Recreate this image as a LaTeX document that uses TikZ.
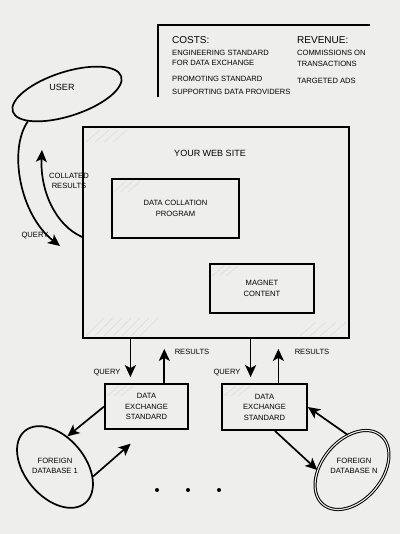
\documentclass[tikz,border=0pt]{standalone}
\usepackage{fontspec}
\setmainfont{Liberation Sans}
\usetikzlibrary{arrows.meta,shapes.geometric,calc}
\definecolor{paper}{RGB}{238,238,236}
\begin{document}
\begin{tikzpicture}[x=1pt,y=-1pt,
  lbl/.style={font=\fontsize{7.6}{10}\selectfont, align=center, inner sep=0pt},
  big/.style={font=\fontsize{9}{11}\selectfont, inner sep=0pt},
  hdr/.style={font=\fontsize{10}{12}\selectfont, inner sep=0pt, anchor=west},
  item/.style={font=\fontsize{7.6}{10.5}\selectfont, inner sep=0pt, anchor=west, align=left},
  box/.style={draw, line width=1.8pt, rectangle, inner sep=0pt, font=\fontsize{7.6}{10.5}\selectfont, align=center},
  oval/.style={draw, line width=1.7pt, ellipse, inner sep=0pt},
  arr/.style={line width=1.7pt, -{Stealth[length=12pt,width=11pt,inset=3pt]}},
  hatch/.style={gray!30, line width=0.5pt},
  dot/.style={circle, fill, inner sep=0pt, minimum size=4pt}]

\fill[paper] (0,0) rectangle (400,534);
\useasboundingbox (0,0) rectangle (400,534);

% legend
\draw[line width=1.8pt] (370,25) -- (158,25) -- (158,97);
\node[hdr] (costs) at (172,40) {COSTS:};
\node[item] (c1) at (172,58) {ENGINEERING STANDARD\\FOR DATA EXCHANGE};
\node[item] (c2) at (172,79) {PROMOTING STANDARD};
\node[item] (c3) at (172,92) {SUPPORTING DATA PROVIDERS};
\node[hdr] (rev) at (297,40) {REVENUE:};
\node[item] (r1t) at (297,58.5) {COMMISSIONS ON\\TRANSACTIONS};
\node[item] (r2t) at (297,81) {TARGETED ADS};

% hatching
\foreach \i in {0,...,6} \draw[hatch] (86+\i*9,336) -- (104+\i*9,318);
\foreach \i in {0,...,3} \draw[hatch] (300+\i*10,336) -- (316+\i*10,322);
\foreach \i in {0,...,3} \draw[hatch] (86+\i*9,142) -- (100+\i*9,130);
\foreach \i in {0,...,2} \draw[hatch] (114+\i*7,192) -- (126+\i*7,181);
\foreach \i in {0,...,2} \draw[hatch] (212+\i*7,276) -- (224+\i*7,266);
\foreach \i in {0,...,2} \draw[hatch] (107+\i*7,396) -- (119+\i*7,386);
\foreach \i in {0,...,2} \draw[hatch] (224+\i*7,396) -- (236+\i*7,386);

% boxes
\node[box, minimum width=266, minimum height=211] (web) at (216,232.5) {};
\node[big] (title) at (210,153) {YOUR WEB SITE};
\node[box, minimum width=127, minimum height=59] (dcp) at (175.5,208.5) {DATA COLLATION\\PROGRAM};
\node[box, minimum width=104, minimum height=49] (mag) at (262,288.5) {MAGNET\\CONTENT};
\node[box, minimum width=83, minimum height=45] (ex1) at (146.5,406.5) {DATA\\EXCHANGE\\STANDARD};
\node[box, minimum width=85, minimum height=46] (ex2) at (264.5,407) {DATA\\EXCHANGE\\STANDARD};

% ellipses
\node[oval, minimum width=114, minimum height=44, rotate=18] (user) at (67,94) {};
\node[big] (userlbl) at (62,87) {USER};
\node[oval, minimum width=94, minimum height=60, rotate=-50] (db1) at (55,467) {};
\node[lbl] (db1lbl) at (55,466) {FOREIGN\\DATABASE 1};
\node[oval, line width=1pt, double=paper, double distance=1.1pt, minimum width=90, minimum height=60, rotate=50] (dbn) at (352,470) {};
\node[lbl] (dbnlbl) at (354,466) {FOREIGN\\DATABASE N};

% user arrows
\coordinate (qend) at (60,246);
\coordinate (cend) at (42,150);
\draw[arr] (user.197) .. controls (8,150) and (20,215) .. (qend);
\node[lbl] (q0) at (35,236) {QUERY};
\draw[arr] (web.west |- 0,237) .. controls (55,225) and (40,190) .. (cend);
\node[lbl] (cr) at (69,181) {COLLATED\\RESULTS};

% exchange arrows
\coordinate (q1) at ($(ex1.north west)!0.31!(ex1.north east)$);
\coordinate (rr1) at ($(ex1.north west)!0.71!(ex1.north east)$);
\coordinate (q2) at ($(ex2.north west)!0.34!(ex2.north east)$);
\coordinate (rr2) at ($(ex2.north west)!0.66!(ex2.north east)$);
\draw[arr, shorten >=6pt] (web.south -| q1) -- (q1);
\draw[arr, shorten >=10pt] (rr1) -- (web.south -| rr1);
\draw[arr, shorten >=6pt] (web.south -| q2) -- (q2);
\draw[arr, shorten >=10pt] (rr2) -- (web.south -| rr2);
\node[lbl] (ql1) at (107,373) {QUERY};
\node[lbl] (rl1) at (192,352) {RESULTS};
\node[lbl] (ql2) at (227,373) {QUERY};
\node[lbl] (rl2) at (312,352) {RESULTS};

% database arrows
\draw[arr] (ex1.west) -- (db1.118);
\draw[arr, shorten >=21pt] (db1.36) -- (ex1.south);
\draw[arr] ($(ex2.south west)!0.62!(ex2.south east)$) -- (dbn.130);
\draw[arr] (dbn.47) -- (ex2.east);

% dots
\node[dot] (d1) at (157,490) {};
\node[dot] (d2) at (188,490) {};
\node[dot] (d3) at (219,490) {};
\end{tikzpicture}
\end{document}
